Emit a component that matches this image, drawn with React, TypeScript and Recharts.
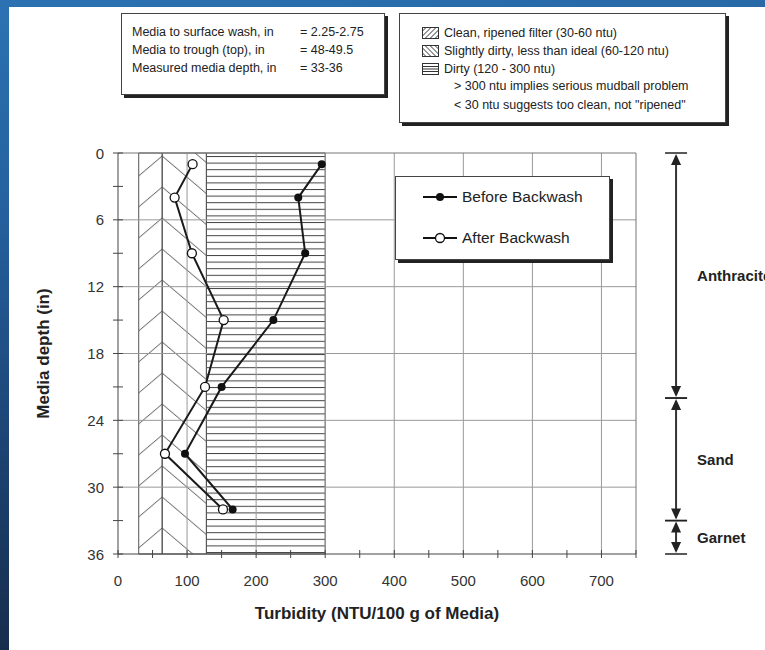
import { ScatterChart, Scatter, XAxis, YAxis, ReferenceArea, ReferenceLine, Legend } from 'recharts'

// sample depth (in) and turbidity readings
const depths = [1, 4, 9, 15, 21, 27, 32]
const beforeNtu = [295, 261, 271, 225, 150, 97, 166]
const afterNtu = [108, 82, 107, 153, 126, 68, 152]

const xTicks = [0, 50, 100, 150, 200, 250, 300, 350, 400, 450, 500, 550, 600, 650, 700, 750]
const yTicks = [0, 3, 6, 9, 12, 15, 18, 21, 24, 27, 30, 33, 36]
const xGrid = [100, 200, 300, 400, 500, 600, 700]
const yGrid = [6, 12, 18, 24, 30]

// hatched turbidity bands
const bandFrom = [30, 64, 128]
const bandTo = [64, 128, 300]
const bandFill = ['url(#hatchUp)', 'url(#hatchDown)', 'url(#hLines)']

// media layers on the right
const layerNames = ['Anthracite', 'Sand', 'Garnet']
const layerTop = [0, 22, 33]
const layerBottom = [22, 33, 36]

const infoLabels = ['Media to surface wash, in', 'Media to trough (top), in', 'Measured media depth, in']
const infoValues = ['= 2.25-2.75', '= 48-49.5', '= 33-36']
const bandNotes = ['Clean, ripened filter (30-60 ntu)', 'Slightly dirty, less than ideal (60-120 ntu)', 'Dirty (120 - 300 ntu)']
const extraNotes = ['> 300 ntu implies serious mudball problem', '< 30 ntu suggests too clean, not "ripened"']

const before = depths.map((d, i) => ({ ntu: beforeNtu[i], depth: d }))
const after = depths.map((d, i) => ({ ntu: afterNtu[i], depth: d }))

const FONT = '"Liberation Sans", Arial, Helvetica, sans-serif'
const PLOT_L = 118
const PLOT_T = 153
const PLOT_W = 518
const X_MAX = 750
const ANNOT_X = 808
const bx = PLOT_L + (bandTo[0] / X_MAX) * PLOT_W

const XTick = ({ x, y, payload }: any) => {
  const v = payload.value
  return (
    <g>
      <line x1={x} x2={x} y1={y - 4} y2={y + 4} stroke="#444" />
      {v % 100 === 0 && v <= 700 && (
        <text x={x} y={y + 26} textAnchor="middle" dominantBaseline="central" fontSize={15} fill="#333" fontFamily={FONT}>
          {v}
        </text>
      )}
    </g>
  )
}

const YTick = ({ x, y, payload }: any) => {
  const v = payload.value
  return (
    <g>
      <line x1={x - 5} x2={x + 5} y1={y} y2={y} stroke="#444" />
      {v % 6 === 0 && (
        <text x={x - 14} y={y} textAnchor="end" dominantBaseline="central" fontSize={15} fill="#333" fontFamily={FONT}>
          {v}
        </text>
      )}
    </g>
  )
}

const FilledDot = ({ cx, cy }: any) => <circle cx={cx} cy={cy} r={4} fill="#111" />
const OpenDot = ({ cx, cy }: any) => <circle cx={cx} cy={cy} r={4.5} fill="#fff" stroke="#111" strokeWidth={1.3} />

const renderLayer = (p: any, i: number) => {
  const x = p.x1
  const ya = Math.min(p.y1, p.y2)
  const yb = Math.max(p.y1, p.y2)
  return (
    <g>
      <line x1={x - 11} x2={x + 11} y1={ya} y2={ya} stroke="#222" strokeWidth={1.5} />
      <line x1={x - 11} x2={x + 11} y1={yb} y2={yb} stroke="#222" strokeWidth={1.5} />
      <line x1={x} x2={x} y1={ya + 3} y2={yb - 3} stroke="#333" strokeWidth={2} />
      <polygon points={`${x},${ya + 1} ${x - 5},${ya + 12} ${x + 5},${ya + 12}`} fill="#222" />
      <polygon points={`${x},${yb - 1} ${x - 5},${yb - 12} ${x + 5},${yb - 12}`} fill="#222" />
      <text x={x + 21} y={(ya + yb) / 2} dominantBaseline="central" fontSize={15} fontWeight="bold" fill="#222" fontFamily={FONT}>
        {layerNames[i]}
      </text>
    </g>
  )
}

const LegendBox = () => (
  <div
    style={{
      width: 215,
      height: 84,
      background: '#fff',
      border: '1px solid #444',
      boxShadow: '3px 3px 0 #222',
      fontFamily: FONT,
      fontSize: 15.5,
      color: '#222',
      position: 'relative',
      boxSizing: 'border-box',
    }}
  >
    {['Before Backwash', 'After Backwash'].map((name, i) => (
      <div key={name} style={{ position: 'absolute', left: 27, top: 10 + i * 41, display: 'flex', alignItems: 'center', height: 20 }}>
        <svg width={34} height={12}>
          <line x1={0} x2={34} y1={6} y2={6} stroke="#111" strokeWidth={2} />
          {i === 0 ? <circle cx={17} cy={6} r={4} fill="#111" /> : <circle cx={17} cy={6} r={4.5} fill="#fff" stroke="#111" strokeWidth={1.3} />}
        </svg>
        <span style={{ marginLeft: 5 }}>{name}</span>
      </div>
    ))}
  </div>
)

const Swatch = ({ kind }: { kind: number }) => (
  <svg width={17} height={12} style={{ display: 'block' }}>
    <rect x={0.5} y={0.5} width={16} height={11} fill="#fff" stroke="#333" />
    {kind === 0 && [0, 5, 10, 15, 20].map((o) => <line key={o} x1={o - 7} y1={11.5} x2={o + 4} y2={0.5} stroke="#333" />)}
    {kind === 1 && [0, 5, 10, 15, 20].map((o) => <line key={o} x1={o - 7} y1={0.5} x2={o + 4} y2={11.5} stroke="#333" />)}
    {kind === 2 && [3.5, 6, 8.5].map((o) => <line key={o} x1={0} y1={o} x2={17} y2={o} stroke="#333" />)}
  </svg>
)

const boxStyle: any = {
  position: 'absolute',
  background: '#fff',
  border: '1px solid #444',
  boxShadow: '3px 3px 0 #222',
  fontFamily: FONT,
  fontSize: 12.5,
  color: '#222',
  boxSizing: 'border-box',
}

export default function App() {
  return (
    <div style={{ position: 'absolute', left: 0, top: 0, width: 765, height: 650, overflow: 'hidden', background: 'linear-gradient(172deg, #2c72b2 0%, #245f9c 30%, #1b3e6a 65%, #152238 100%)' }}>
      <div style={{ position: 'absolute', left: 9, top: 7, right: 0, bottom: 0, background: '#fff' }} />

      <svg width={0} height={0} style={{ position: 'absolute' }}>
        <defs>
          <pattern id="hatchUp" patternUnits="userSpaceOnUse" x={bx} y={PLOT_T + 3} width={200} height={31}>
            {[-2, -1, 0, 1].map((k) => (
              <line key={k} x1={200} y1={k * 31} x2={120} y2={k * 31 + 68} stroke="#555" strokeWidth={1} />
            ))}
          </pattern>
          <pattern id="hatchDown" patternUnits="userSpaceOnUse" x={bx} y={PLOT_T + 3} width={200} height={31}>
            {[-2, -1, 0, 1].map((k) => (
              <line key={k} x1={0} y1={k * 31} x2={80} y2={k * 31 + 68} stroke="#555" strokeWidth={1} />
            ))}
          </pattern>
          <pattern id="hLines" patternUnits="userSpaceOnUse" x={0} y={PLOT_T + 3} width={10} height={6.6}>
            <line x1={0} x2={10} y1={0.5} y2={0.5} stroke="#444" strokeWidth={1} />
          </pattern>
        </defs>
      </svg>

      <div style={{ ...boxStyle, left: 121, top: 13, width: 264, height: 82 }}>
        {infoLabels.map((t, i) => (
          <div key={t} style={{ position: 'absolute', left: 10, top: 11 + i * 18, whiteSpace: 'nowrap' }}>
            {t}
            <span style={{ position: 'absolute', left: 168 }}>{infoValues[i]}</span>
          </div>
        ))}
      </div>

      <div style={{ ...boxStyle, left: 399, top: 13, width: 327, height: 110 }}>
        {bandNotes.map((t, i) => (
          <div key={t} style={{ position: 'absolute', left: 22, top: 11 + i * 18, display: 'flex', alignItems: 'center', whiteSpace: 'nowrap', height: 15 }}>
            <Swatch kind={i} />
            <span style={{ marginLeft: 5 }}>{t}</span>
          </div>
        ))}
        {extraNotes.map((t, i) => (
          <div key={t} style={{ position: 'absolute', left: 54, top: 65 + i * 19, whiteSpace: 'nowrap' }}>
            {t}
          </div>
        ))}
      </div>

      <div style={{ position: 'absolute', left: 0, top: 0 }}>
        <ScatterChart width={765} height={650} margin={{ top: PLOT_T, right: 765 - PLOT_L - PLOT_W, bottom: 36, left: PLOT_L - 60 }}>
          <XAxis
            type="number"
            dataKey="ntu"
            domain={[0, X_MAX]}
            ticks={xTicks}
            interval={0}
            tickSize={0}
            tickMargin={0}
            tickLine={false}
            tick={<XTick />}
            height={60}
            axisLine={{ stroke: '#444' }}
            label={{ value: 'Turbidity (NTU/100 g of Media)', position: 'insideBottom', offset: -5, style: { fontFamily: FONT, fontSize: 17, fontWeight: 'bold', fill: '#222' } }}
          />
          <YAxis
            type="number"
            dataKey="depth"
            domain={[0, 36]}
            reversed
            ticks={yTicks}
            interval={0}
            tickSize={0}
            tickMargin={0}
            tickLine={false}
            tick={<YTick />}
            width={60}
            axisLine={{ stroke: '#444' }}
            label={{ value: 'Media depth (in)', angle: -90, position: 'insideLeft', offset: -15, style: { textAnchor: 'middle', fontFamily: FONT, fontSize: 17, fontWeight: 'bold', fill: '#222' } }}
          />
          {xGrid.map((v) => (
            <ReferenceLine key={'gx' + v} x={v} stroke="#999" />
          ))}
          {yGrid.map((v) => (
            <ReferenceLine key={'gy' + v} y={v} stroke="#999" />
          ))}
          <ReferenceLine y={0} stroke="#777" />
          <ReferenceLine x={X_MAX} stroke="#777" />
          {bandFrom.map((f, i) => (
            <ReferenceArea key={'b' + i} x1={f} x2={bandTo[i]} y1={0} y2={36} fill={bandFill[i]} fillOpacity={1} stroke="#555" strokeWidth={1} />
          ))}
          {layerNames.map((n, i) => (
            <ReferenceLine
              key={n}
              segment={[{ x: ANNOT_X, y: layerTop[i] }, { x: ANNOT_X, y: layerBottom[i] }]}
              ifOverflow="visible"
              shape={(p: any) => renderLayer(p, i)}
            />
          ))}
          <Legend
            layout="vertical"
            align="center"
            verticalAlign="middle"
            wrapperStyle={{ left: 395, top: 176, width: 215, height: 84 }}
            content={() => <LegendBox />}
          />
          <Scatter name="Before Backwash" data={before} line={{ stroke: '#1a1a1a', strokeWidth: 2 }} shape={<FilledDot />} isAnimationActive={false} />
          <Scatter name="After Backwash" data={after} line={{ stroke: '#1a1a1a', strokeWidth: 2 }} shape={<OpenDot />} isAnimationActive={false} />
        </ScatterChart>
      </div>
    </div>
  )
}
